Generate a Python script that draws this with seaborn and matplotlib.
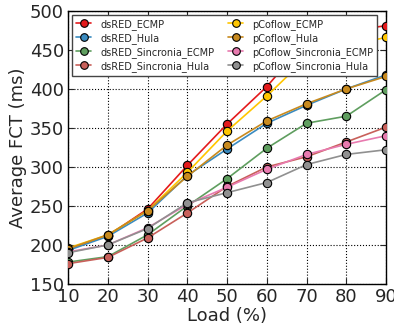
import matplotlib
matplotlib.use("Agg")
import matplotlib.pyplot as plt
import seaborn as sns
import pandas as pd
from matplotlib.lines import Line2D

loads = [10, 20, 30, 40, 50, 60, 70, 80, 90]
series_names = ["dsRED_ECMP", "dsRED_Hula", "dsRED_Sincronia_ECMP", "dsRED_Sincronia_Hula",
                "pCoflow_ECMP", "pCoflow_Hula", "pCoflow_Sincronia_ECMP", "pCoflow_Sincronia_Hula"]
dsRED_ECMP = [195, 212, 246, 302, 355, 403, 462, 474, 481]
dsRED_Hula = [193, 211, 241, 289, 323, 356, 379, 400, 418]
dsRED_Sincronia_ECMP = [178, 185, 213, 250, 285, 324, 356, 365, 399]
dsRED_Sincronia_Hula = [176, 184, 209, 241, 275, 300, 313, 332, 351]
pCoflow_ECMP = [196, 213, 244, 293, 346, 391, 440, 455, 466]
pCoflow_Hula = [195, 213, 244, 288, 328, 359, 381, 400, 416]
pCoflow_Sincronia_ECMP = [191, 200, 222, 252, 274, 297, 316, 329, 340]
pCoflow_Sincronia_Hula = [190, 200, 221, 254, 267, 280, 303, 316, 322]
colors = ["#e41a1c", "#3a8bc0", "#5f9e5f", "#c8605a", "#ffc600", "#c88a1e", "#e87aaf", "#909090"]

values = [dsRED_ECMP, dsRED_Hula, dsRED_Sincronia_ECMP, dsRED_Sincronia_Hula,
          pCoflow_ECMP, pCoflow_Hula, pCoflow_Sincronia_ECMP, pCoflow_Sincronia_Hula]
rows = []
for name, vals in zip(series_names, values):
    for l, v in zip(loads, vals):
        rows.append({"Load": l, "FCT": v, "Series": name})
df = pd.DataFrame(rows)

sns.set_style("ticks")
plt.rcParams["font.family"] = ["DejaVu Sans"]

fig = plt.figure(figsize=(3.94, 3.29), dpi=100)
ax = fig.add_axes([0.173, 0.137, 0.807, 0.830])
sns.lineplot(data=df, x="Load", y="FCT", hue="Series", hue_order=series_names,
             palette=colors, marker="o", markersize=6, markeredgecolor="black",
             markeredgewidth=0.8, linewidth=1.2, dashes=False, ax=ax, legend=False, zorder=3)

ax.set_xlim(10, 90)
ax.set_ylim(150, 500)
ax.set_xticks(loads)
ax.set_yticks([150, 200, 250, 300, 350, 400, 450, 500])
ax.tick_params(direction="in", top=True, right=True, labelsize=13, length=4, pad=3)
ax.grid(True, linestyle=":", color="black", linewidth=0.8)
ax.set_xlabel("Load (%)", fontsize=13, labelpad=1)
ax.set_ylabel("Average FCT (ms)", fontsize=13, labelpad=2)
for s in ax.spines.values():
    s.set_linewidth(1)
    s.set_color("black")

handles = [Line2D([], [], color=c, marker="o", markersize=5.5, markeredgecolor="black",
                  markeredgewidth=0.8, linewidth=1.2) for c in colors]
leg = ax.legend(handles, series_names, ncol=2, loc="upper left", fontsize=7,
                frameon=True, fancybox=False, borderpad=0.4, handlelength=1.6,
                handletextpad=0.9, columnspacing=1.4, labelspacing=0.32,
                borderaxespad=0, bbox_to_anchor=(0.012, 0.985))
leg.get_frame().set_edgecolor("#444444")
leg.get_frame().set_linewidth(1)
leg.get_frame().set_alpha(1)
leg.set_zorder(5)

fig.savefig("out.png", dpi=100)
